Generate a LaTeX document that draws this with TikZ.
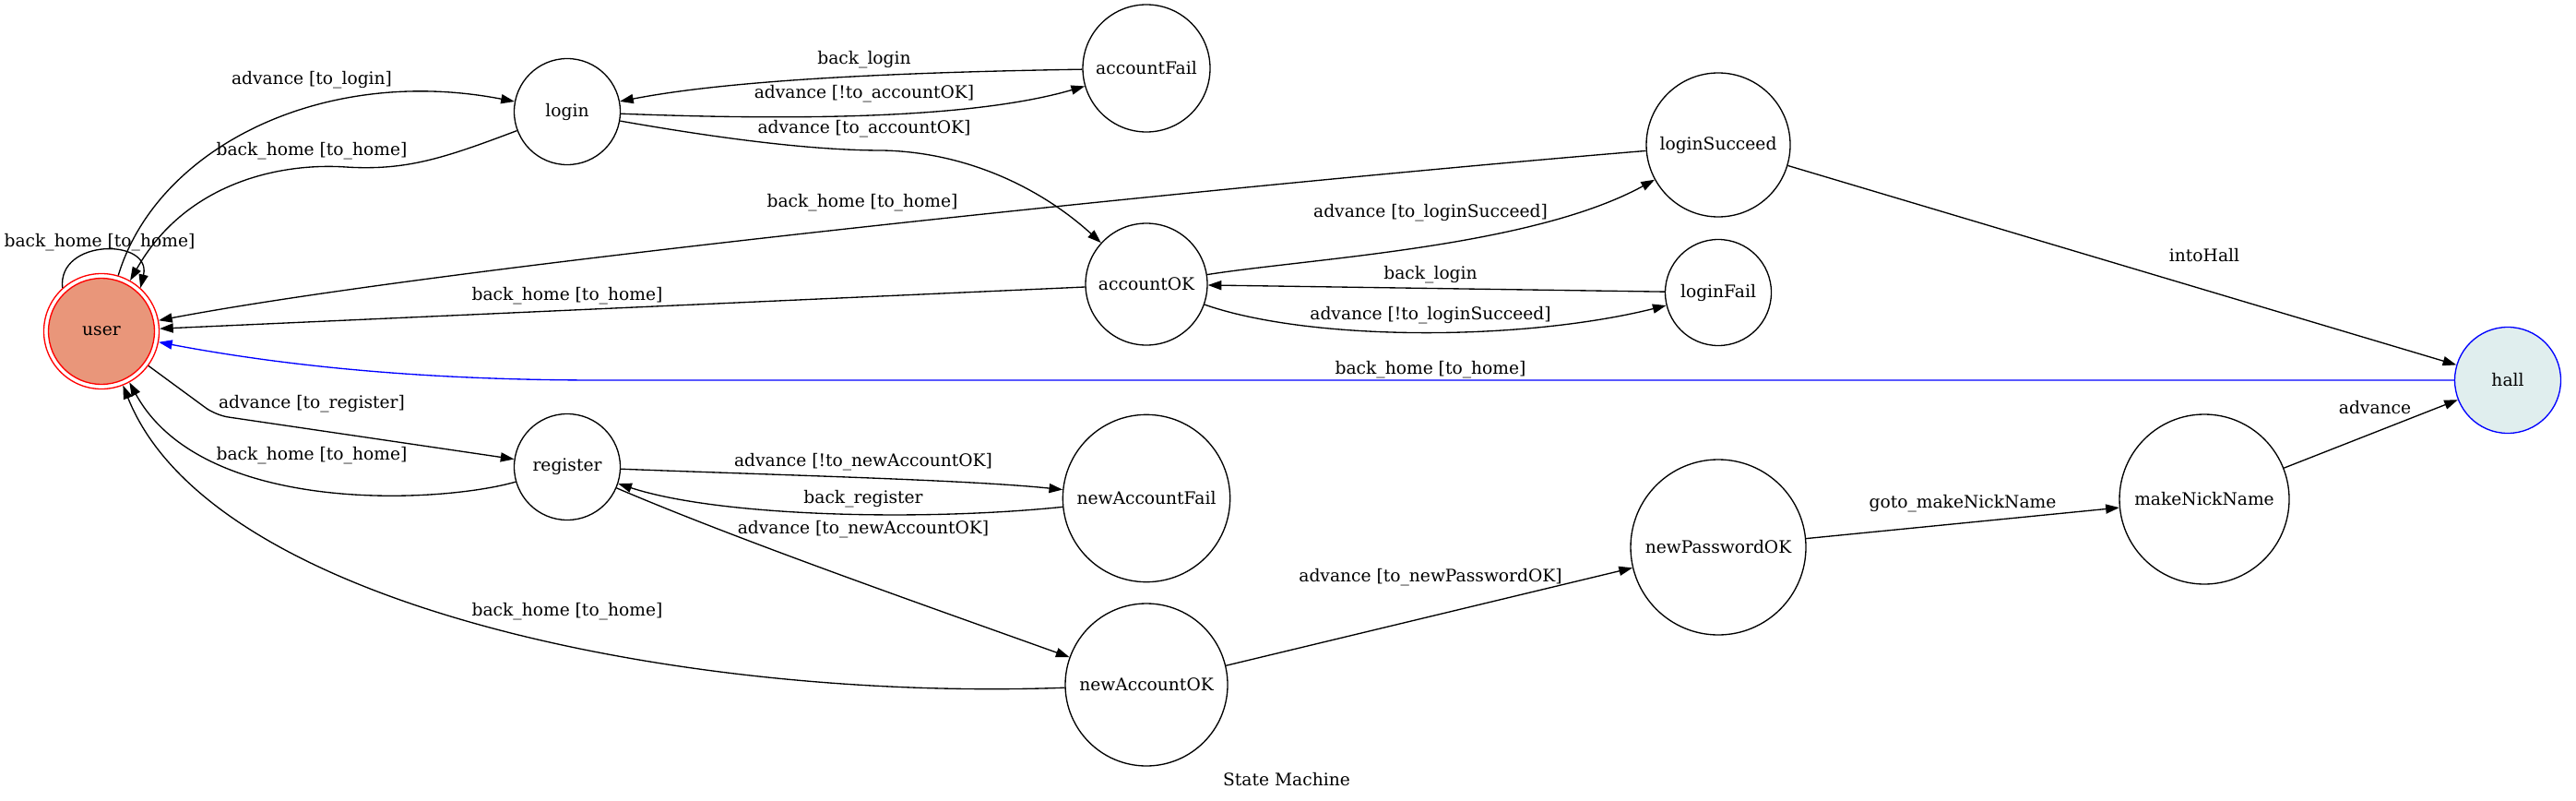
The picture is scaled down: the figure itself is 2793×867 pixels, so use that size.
\documentclass[tikz,border=0pt]{standalone}
\usepackage{fontspec}
\setmainfont{DejaVu Serif}
\usetikzlibrary{arrows.meta}
\definecolor{salmonfill}{HTML}{E9967A}
\definecolor{hallfill}{HTML}{E0EEEE}
\begin{document}
\begin{tikzpicture}[x=0.75pt,y=-0.75pt,
  state/.style={circle,draw=black,line width=1pt,inner sep=0pt,font=\fontsize{14}{16}\selectfont},
  lbl/.style={inner sep=0pt,font=\fontsize{14}{16}\selectfont},
  edge/.style={line width=1pt,-{Triangle[length=11pt,width=7.6pt]}},
]
\fill[white] (0,0) rectangle (2793,867);
\useasboundingbox (0,0) rectangle (2793,867);

% states
\node[state, draw=red, minimum size=93.75pt] (user) at (110,359) {};
\filldraw[fill=salmonfill, draw=red, line width=1pt] (user.center) circle[radius=43.1pt];
\node[lbl] (usertext) at (user.center) {user};
\node[state, minimum size=86.25pt] (login) at (615,121) {login};
\node[state, minimum size=103.5pt] (accountFail) at (1243,74) {accountFail};
\node[state, minimum size=99pt] (accountOK) at (1243,308) {accountOK};
\node[state, minimum size=117pt] (loginSucceed) at (1863,157) {loginSucceed};
\node[state, minimum size=86.25pt] (loginFail) at (1863,317) {loginFail};
\node[state, draw=blue, fill=hallfill, minimum size=86.25pt] (hall) at (2719,412) {hall};
\node[state, minimum size=86.25pt] (register) at (615,506) {register};
\node[state, minimum size=136pt] (newAccountFail) at (1243,540) {newAccountFail};
\node[state, minimum size=132pt] (newAccountOK) at (1243,742) {newAccountOK};
\node[state, minimum size=142.5pt] (newPasswordOK) at (1863,593) {newPasswordOK};
\node[state, minimum size=138pt] (makeNickName) at (2390,541) {makeNickName};
\node[lbl] (title) at (1395,845) {State Machine};

% edges
\draw[edge] (user) .. controls (170,160) and (350,70) .. (login);
\draw[edge] (login) .. controls (480,172) and (440,185) .. (375,181) .. controls (300,176) and (200,200) .. (user);
\draw[edge] (user.132) .. controls (62,258) and (165,258) .. (user.48);
\draw[edge] (login) .. controls (850,130) and (1050,130) .. (accountFail);
\draw[edge] (accountFail) .. controls (1000,78) and (800,85) .. (login);
\draw[edge] (login) .. controls (780,150) and (880,163) .. (957,163) .. controls (1050,165) and (1130,205) .. (accountOK);
\draw[edge] (accountOK) -- (user);
\draw[edge] (loginSucceed) .. controls (1400,195) and (500,285) .. (user);
\draw[edge] (accountOK) .. controls (1420,280) and (1660,268) .. (loginSucceed);
\draw[edge] (loginFail) -- (accountOK);
\draw[edge] (accountOK) .. controls (1420,370) and (1650,370) .. (loginFail);
\draw[edge] (loginSucceed) -- (hall);
\draw[edge, blue] (hall) -- (650,412) .. controls (450,412) and (300,395) .. (user);
\draw[edge, rounded corners=10pt] (user) -- (234,450) -- (register);
\draw[edge] (register) .. controls (480,545) and (220,560) .. (user);
\draw[edge] (register) .. controls (850,515) and (1050,520) .. (newAccountFail);
\draw[edge] (newAccountFail) .. controls (1000,565) and (780,560) .. (register);
\draw[edge] (register) .. controls (800,585) and (1000,655) .. (newAccountOK);
\draw[edge] (newAccountOK) .. controls (750,760) and (230,660) .. (user);
\draw[edge] (newAccountOK) -- (newPasswordOK);
\draw[edge] (newPasswordOK) -- (makeNickName);
\draw[edge] (makeNickName) -- (hall);

% edge labels
\node[lbl] (t1) at (338,87) {advance [to\_login]};
\node[lbl] (t2) at (338,164) {back\_home [to\_home]};
\node[lbl] (t3) at (108,263) {back\_home [to\_home]};
\node[lbl] (t4) at (937,102) {advance [!to\_accountOK]};
\node[lbl] (t5) at (937,65) {back\_login};
\node[lbl] (t6) at (937,140) {advance [to\_accountOK]};
\node[lbl] (t7) at (615,321) {back\_home [to\_home]};
\node[lbl] (t8) at (935,220) {back\_home [to\_home]};
\node[lbl] (t9) at (1551,231) {advance [to\_loginSucceed]};
\node[lbl] (t10) at (1551,298) {back\_login};
\node[lbl] (t11) at (1551,342) {advance [!to\_loginSucceed]};
\node[lbl] (t12) at (2390,277) {intoHall};
\node[lbl] (t13) at (1551,401) {back\_home [to\_home]};
\node[lbl] (t14) at (338,438) {advance [to\_register]};
\node[lbl] (t15) at (338,494) {back\_home [to\_home]};
\node[lbl] (t16) at (936,501) {advance [!to\_newAccountOK]};
\node[lbl] (t17) at (936,541) {back\_register};
\node[lbl] (t18) at (936,574) {advance [to\_newAccountOK]};
\node[lbl] (t19) at (615,663) {back\_home [to\_home]};
\node[lbl] (t20) at (1551,626) {advance [to\_newPasswordOK]};
\node[lbl] (t21) at (2128,546) {goto\_makeNickName};
\node[lbl] (t22) at (2575,442) {advance};
\end{tikzpicture}
\end{document}
